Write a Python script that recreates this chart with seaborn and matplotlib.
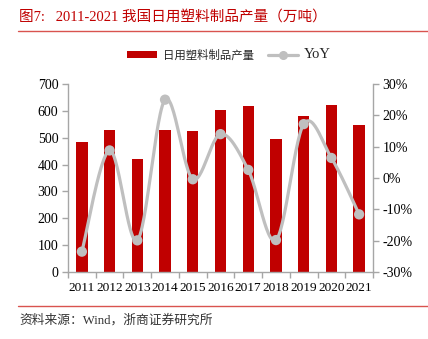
import numpy as np
import pandas as pd
import matplotlib
matplotlib.use("Agg")
import matplotlib.pyplot as plt
from matplotlib.lines import Line2D
from matplotlib.patches import Patch
import seaborn as sns

years = ["2011", "2012", "2013", "2014", "2015", "2016", "2017", "2018", "2019", "2020", "2021"]
output = [484, 528, 422, 528, 526, 602, 618, 495, 581, 620, 547]          # 万吨
yoy = [-23.5, 8.8, -19.9, 25.0, -0.4, 14.0, 2.6, -19.8, 17.2, 6.4, -11.6]  # %
left_ticks = [0, 100, 200, 300, 400, 500, 600, 700]
right_ticks = [-30, -20, -10, 0, 10, 20, 30]

BAR = "#C00000"
GRAY = "#BFBFBF"
AXIS = "#A6A6A6"
FONT = ["Liberation Serif", "Noto Sans CJK SC"]

sns.set_theme(style="white")
plt.rcParams["font.family"] = FONT
plt.rcParams["axes.unicode_minus"] = False


def smooth_curve(xs, ys, steps=30):
    """Catmull-Rom style cubic Bezier through the points (like a smoothed line)."""
    xs = np.asarray(xs, float)
    ys = np.asarray(ys, float)
    n = len(xs)
    px, py = [], []
    for i in range(n - 1):
        p0 = np.array([xs[max(i - 1, 0)], ys[max(i - 1, 0)]])
        p1 = np.array([xs[i], ys[i]])
        p2 = np.array([xs[i + 1], ys[i + 1]])
        p3 = np.array([xs[min(i + 2, n - 1)], ys[min(i + 2, n - 1)]])
        c1 = p1 + (p2 - p0) / 6.0
        c2 = p2 - (p3 - p1) / 6.0
        t = np.linspace(0, 1, steps)[:, None]
        seg = ((1 - t) ** 3) * p1 + 3 * ((1 - t) ** 2) * t * c1 + 3 * (1 - t) * t ** 2 * c2 + t ** 3 * p2
        px.extend(seg[:, 0])
        py.extend(seg[:, 1])
    return np.array(px), np.array(py)


df = pd.DataFrame({"year": years, "output": output, "yoy": yoy})
pos = np.arange(len(years))

fig = plt.figure(figsize=(4.28, 3.39), dpi=100)
ax = fig.add_axes([0.1589, 0.1976, 0.7126, 0.5546])

sns.barplot(data=df, x="year", y="output", color=BAR, saturation=1,
            width=0.41, ax=ax, edgecolor="none")
ax.set_xlim(-0.5, len(years) - 0.5)
ax.set_ylim(0, 700)
ax.set_yticks(left_ticks)
ax.set_yticklabels([str(v) for v in left_ticks])
ax.set_xlabel("")
ax.set_ylabel("")

ax2 = ax.twinx()
cx, cy = smooth_curve(pos, yoy)
ax2.plot(cx, cy, color=GRAY, lw=2.3, solid_capstyle="round", zorder=3)
sns.scatterplot(x=pos, y=yoy, ax=ax2, color=GRAY, s=55, edgecolor="none", zorder=4)
ax2.set_ylim(-30, 30)
ax2.set_yticks(right_ticks)
ax2.set_yticklabels([f"{v}%" for v in right_ticks])
ax2.set_xlim(-0.5, len(years) - 0.5)

for a in (ax, ax2):
    for s in a.spines.values():
        s.set_visible(False)
    a.grid(False)

ax.spines["left"].set_visible(True)
ax.spines["bottom"].set_visible(True)
ax2.spines["right"].set_visible(True)
for s in (ax.spines["left"], ax.spines["bottom"], ax2.spines["right"]):
    s.set_color(AXIS)
    s.set_linewidth(1.0)

# category labels centred, tick marks on the boundaries
ax.set_xticks(pos)
ax.set_xticklabels(years)
ax.set_xticks(np.arange(-0.5, len(years), 1.0), minor=True)
ax.tick_params(axis="x", which="major", length=0, pad=7, labelsize=9.6, colors="black")
ax.tick_params(axis="x", which="minor", length=4, width=1, color=AXIS, direction="out", bottom=True)
ax.tick_params(axis="y", left=True, length=4, width=1, color=AXIS, labelsize=10, labelcolor="black", pad=3)
ax2.tick_params(axis="y", right=True, length=4, width=1, color=AXIS, labelsize=10, labelcolor="black", pad=3)

handles = [
    Patch(facecolor=BAR, edgecolor="none"),
    Line2D([0], [0], color=GRAY, lw=2.3, marker="o", markersize=5.5, markeredgecolor=GRAY),
]
leg = fig.legend(handles, ["日用塑料制品产量", "YoY"], loc="center", bbox_to_anchor=(0.535, 0.838),
                 ncol=2, frameon=False, handlelength=2.6, handleheight=0.65,
                 columnspacing=1.3, handletextpad=0.5, prop={"family": FONT, "size": 8.2})
leg.get_texts()[1].set_fontsize(10.5)

# title and source
fig.text(0.045, 0.952, "图7:   2011-2021 我国日用塑料制品产量（万吨）", color=BAR,
         fontsize=10.5, ha="left", va="center", family=FONT)
fig.add_artist(Line2D([0.042, 1.0], [0.909, 0.909], color="#D9534F", lw=1.0, transform=fig.transFigure))
fig.add_artist(Line2D([0.042, 1.0], [0.097, 0.097], color="#D9534F", lw=1.0, transform=fig.transFigure))
fig.text(0.045, 0.055, "资料来源：Wind，浙商证券研究所", color="#333333",
         fontsize=9.2, ha="left", va="center", family=FONT)

fig.savefig("out.png", dpi=100)
